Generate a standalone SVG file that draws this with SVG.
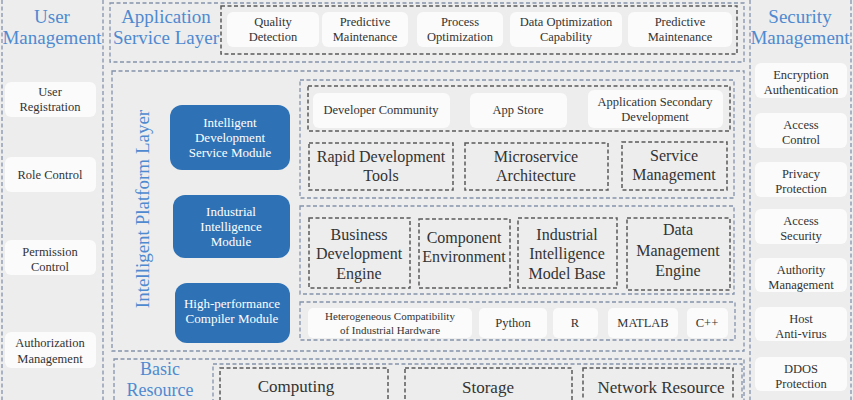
<svg xmlns="http://www.w3.org/2000/svg" width="853" height="400" viewBox="0 0 853 400" font-family="'Liberation Serif', 'DejaVu Serif', serif">
<style>
.bg{fill:#ededed}
.do{fill:none;stroke:#8493ab;stroke-width:1.3;stroke-dasharray:4 2.5}
.di{fill:none;stroke:#5a5a5a;stroke-width:1.5;stroke-dasharray:4 2.5}
.wb{fill:#fbfbfb}
.bm{fill:#2e72b5}
text{font-family:'Liberation Serif','DejaVu Serif',serif;text-anchor:middle;fill:#333}
.t{font-size:19px;fill:#4f8ad0}
.tb{font-size:18px;fill:#4f8ad0}
.s{font-size:12.5px}
.m{font-size:13px;fill:#ffffff}
.l{font-size:16px}
.xl{font-size:17px}
.h{font-size:11px}
</style>
<rect class="bg" x="0" y="0" width="853" height="400"/>

<g id="user-management">
<line class="do" x1="2" y1="0" x2="2" y2="400"/>
<line class="do" x1="103" y1="0" x2="103" y2="400"/>
<text class="t" x="52" y="23">User</text>
<text class="t" x="52" y="44">Management</text>
<g id="user-registration"><rect class="wb" x="5" y="82" width="91" height="35" rx="6"/><text class="s" x="50" y="96">User</text><text class="s" x="50" y="111">Registration</text></g>
<g id="role-control"><rect class="wb" x="5" y="157" width="91" height="35" rx="6"/><text class="s" x="50" y="179">Role Control</text></g>
<g id="permission-control"><rect class="wb" x="5" y="240" width="91" height="35" rx="6"/><text class="s" x="50" y="256">Permission</text><text class="s" x="50" y="271">Control</text></g>
<g id="authorization-management"><rect class="wb" x="5" y="332" width="91" height="36" rx="6"/><text class="s" x="50" y="347">Authorization</text><text class="s" x="50" y="363">Management</text></g>
</g>

<g id="security-management">
<line class="do" x1="750" y1="0" x2="750" y2="400"/>
<line class="do" x1="851" y1="0" x2="851" y2="400"/>
<text class="t" x="800" y="23">Security</text>
<text class="t" x="800" y="44">Management</text>
<g id="encryption"><rect class="wb" x="755" y="63" width="92" height="35" rx="6"/><text class="s" x="801" y="79">Encryption</text><text class="s" x="801" y="94">Authentication</text></g>
<g id="access-control"><rect class="wb" x="755" y="113" width="92" height="35" rx="6"/><text class="s" x="801" y="129">Access</text><text class="s" x="801" y="144">Control</text></g>
<g id="privacy"><rect class="wb" x="755" y="162" width="92" height="35" rx="6"/><text class="s" x="801" y="178">Privacy</text><text class="s" x="801" y="193">Protection</text></g>
<g id="access-security"><rect class="wb" x="755" y="209" width="92" height="35" rx="6"/><text class="s" x="801" y="225">Access</text><text class="s" x="801" y="240">Security</text></g>
<g id="authority"><rect class="wb" x="755" y="258" width="92" height="34" rx="6"/><text class="s" x="801" y="274">Authority</text><text class="s" x="801" y="289">Management</text></g>
<g id="host-antivirus"><rect class="wb" x="755" y="307" width="92" height="34" rx="6"/><text class="s" x="801" y="323">Host</text><text class="s" x="801" y="338">Anti-virus</text></g>
<g id="ddos"><rect class="wb" x="755" y="357" width="92" height="34" rx="6"/><text class="s" x="801" y="373">DDOS</text><text class="s" x="801" y="388">Protection</text></g>
</g>

<g id="application-service-layer">
<rect class="do" x="110" y="3" width="634" height="59"/>
<text class="t" x="166" y="23">Application</text>
<text class="t" x="166" y="44">Service Layer</text>
<rect class="di" x="221" y="6" width="516" height="48"/>
<g id="quality-detection"><rect class="wb" x="227" y="12" width="92" height="35" rx="6"/><text class="s" x="273" y="26">Quality</text><text class="s" x="273" y="41">Detection</text></g>
<g id="predictive-1"><rect class="wb" x="322" y="12" width="86" height="35" rx="6"/><text class="s" x="365" y="26">Predictive</text><text class="s" x="365" y="41">Maintenance</text></g>
<g id="process-optimization"><rect class="wb" x="417" y="12" width="86" height="35" rx="6"/><text class="s" x="460" y="26">Process</text><text class="s" x="460" y="41">Optimization</text></g>
<g id="data-optimization"><rect class="wb" x="510" y="12" width="112" height="35" rx="6"/><text class="s" x="566" y="26">Data Optimization</text><text class="s" x="566" y="41">Capability</text></g>
<g id="predictive-2"><rect class="wb" x="628" y="12" width="104" height="35" rx="6"/><text class="s" x="680" y="26">Predictive</text><text class="s" x="680" y="41">Maintenance</text></g>
</g>

<g id="intelligent-platform-layer">
<rect class="do" x="112" y="71" width="632" height="280"/>
<text class="t" transform="translate(149,209) rotate(-90)">Intelligent Platform Layer</text>
<g id="dev-service-module"><rect class="bm" x="170" y="105" width="120" height="65" rx="12"/><text class="m" x="230" y="127">Intelligent</text><text class="m" x="230" y="142">Development</text><text class="m" x="230" y="157">Service Module</text></g>
<g id="industrial-intelligence-module"><rect class="bm" x="173" y="195" width="117" height="63" rx="12"/><text class="m" x="231" y="216">Industrial</text><text class="m" x="231" y="231">Intelligence</text><text class="m" x="231" y="246">Module</text></g>
<g id="compiler-module"><rect class="bm" x="175" y="283" width="115" height="60" rx="12"/><text class="m" x="232" y="308">High-performance</text><text class="m" x="232" y="323">Compiler Module</text></g>

<g id="dev-panel">
<rect class="do" x="300" y="80" width="434" height="118"/>
<rect class="di" x="308" y="86" width="422" height="45"/>
<g id="developer-community"><rect class="wb" x="313" y="93" width="137" height="35" rx="6"/><text class="s" x="381" y="114">Developer Community</text></g>
<g id="app-store"><rect class="wb" x="470" y="93" width="97" height="35" rx="6"/><text class="s" x="518" y="114">App Store</text></g>
<g id="app-secondary"><rect class="wb" x="588" y="90" width="135" height="38" rx="6"/><text class="s" x="655" y="106">Application Secondary</text><text class="s" x="655" y="121">Development</text></g>
<g id="rapid-dev"><rect class="di" x="309" y="143" width="144" height="47"/><text class="l" x="381" y="162">Rapid Development</text><text class="l" x="381" y="181">Tools</text></g>
<g id="microservice"><rect class="di" x="465" y="143" width="143" height="47"/><text class="l" x="536" y="162">Microservice</text><text class="l" x="536" y="181">Architecture</text></g>
<g id="service-management"><rect class="di" x="622" y="142" width="105" height="48"/><text class="l" x="674" y="161">Service</text><text class="l" x="674" y="180">Management</text></g>
</g>

<g id="intelligence-panel">
<rect class="do" x="300" y="206" width="434" height="88"/>
<g id="business-dev-engine"><rect class="di" x="309" y="218" width="101" height="70"/><text class="l" x="359" y="240">Business</text><text class="l" x="359" y="259">Development</text><text class="l" x="359" y="279">Engine</text></g>
<g id="component-env"><rect class="di" x="419" y="219" width="91" height="69"/><text class="l" x="464" y="243">Component</text><text class="l" x="464" y="262">Environment</text></g>
<g id="model-base"><rect class="di" x="518" y="218" width="99" height="70"/><text class="l" x="567" y="240">Industrial</text><text class="l" x="567" y="259">Intelligence</text><text class="l" x="567" y="279">Model Base</text></g>
<g id="data-mgmt-engine"><rect class="di" x="627" y="218" width="103" height="72"/><text class="l" x="678" y="235">Data</text><text class="l" x="678" y="256">Management</text><text class="l" x="678" y="276">Engine</text></g>
</g>

<g id="hardware-panel">
<rect class="do" x="300" y="302" width="435" height="38"/>
<g id="heterogeneous"><rect class="wb" x="308" y="308" width="164" height="30" rx="5"/><text class="h" x="390" y="320">Heterogeneous Compatibility</text><text class="h" x="390" y="334">of Industrial Hardware</text></g>
<g id="python"><rect class="wb" x="479" y="308" width="68" height="30" rx="5"/><text class="s" x="513" y="327">Python</text></g>
<g id="r"><rect class="wb" x="553" y="308" width="45" height="30" rx="5"/><text class="s" x="575" y="327">R</text></g>
<g id="matlab"><rect class="wb" x="608" y="308" width="70" height="30" rx="5"/><text class="s" x="643" y="327">MATLAB</text></g>
<g id="cpp"><rect class="wb" x="687" y="308" width="41" height="30" rx="5"/><text class="s" x="707" y="327">C++</text></g>
</g>
</g>

<g id="basic-resource-layer">
<rect class="do" x="114" y="359" width="630" height="60"/>
<text class="tb" x="160" y="375">Basic</text>
<text class="tb" x="160" y="396">Resource</text>
<rect class="do" x="213" y="364" width="529" height="56"/>
<g id="computing"><rect class="di" x="220" y="368" width="168" height="50"/><text class="xl" x="296" y="392">Computing</text></g>
<g id="storage"><rect class="di" x="405" y="368" width="167" height="50"/><text class="xl" x="488" y="393">Storage</text></g>
<g id="network"><rect class="di" x="583" y="368" width="150" height="50"/><text class="xl" x="661" y="393">Network Resource</text></g>
</g>

<g id="connectors"></g>
</svg>
